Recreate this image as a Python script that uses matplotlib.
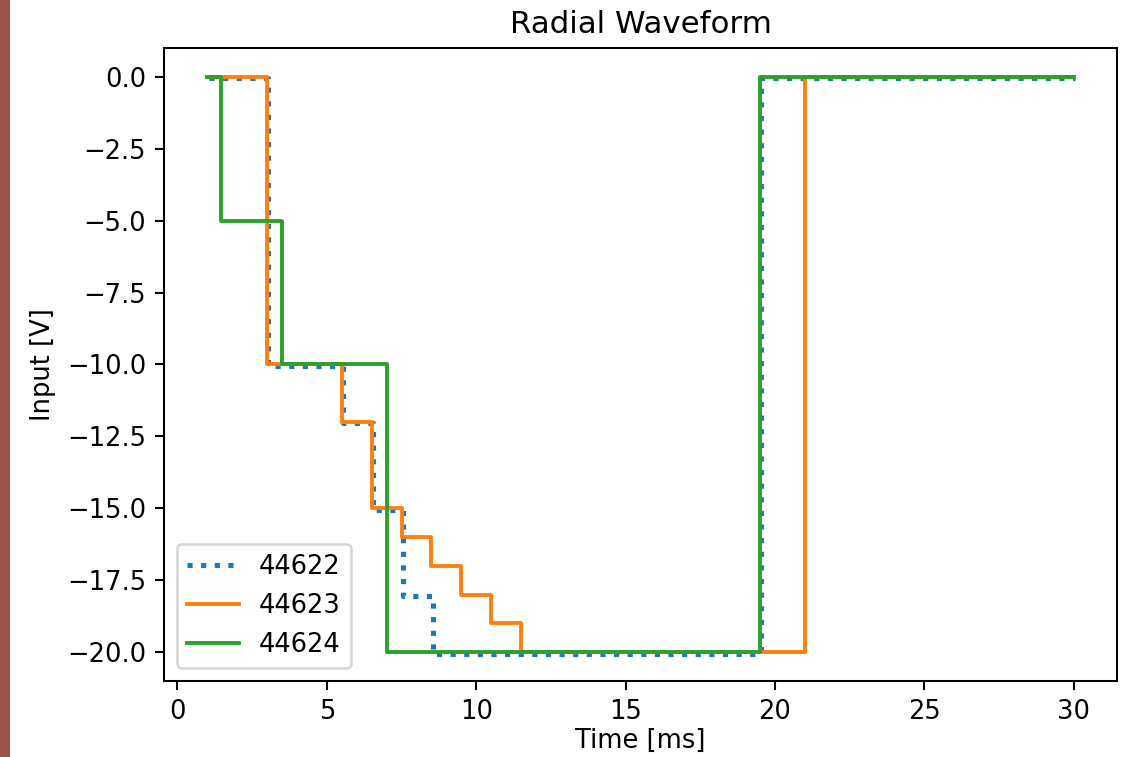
import matplotlib
matplotlib.use("Agg")
import matplotlib.pyplot as plt
from matplotlib.patches import Rectangle
from matplotlib.transforms import offset_copy

# step change times [ms] and levels [V] for each shot
t_44622 = [1.0, 3.0, 5.5, 6.5, 7.5, 8.5, 19.5, 30.0]
v_44622 = [0, -10, -12, -15, -18, -20, 0, 0]

t_44623 = [1.0, 3.0, 5.5, 6.5, 7.5, 8.5, 9.5, 10.5, 11.5, 21.0, 30.0]
v_44623 = [0, -10, -12, -15, -16, -17, -18, -19, -20, 0, 0]

t_44624 = [1.0, 1.45, 3.5, 7.0, 19.5, 30.0]
v_44624 = [0, -5, -10, -20, 0, 0]

shots = ['44622', '44623', '44624']

fig = plt.figure(figsize=(1130 / 185, 757 / 185), dpi=185)
ax = fig.add_axes([164 / 1130, 1 - 681 / 757, (1117 - 164) / 1130, (681 - 48) / 757])

# dotted trace sits a hair off the others in the original render
shifted = offset_copy(ax.transData, fig=fig, x=0.5, y=-0.5, units='points')
ax.plot(t_44622, v_44622, drawstyle='steps-post', linestyle=':', linewidth=2,
        label=shots[0], transform=shifted)
ax.plot(t_44623, v_44623, drawstyle='steps-post', label=shots[1])
ax.plot(t_44624, v_44624, drawstyle='steps-post', label=shots[2])

ax.set_title('Radial Waveform')
ax.set_xlabel('Time [ms]', labelpad=1)
ax.set_ylabel('Input [V]')
ax.legend(loc='lower left')

# strip of the window border visible on the left of the screenshot
fig.patches.append(Rectangle((0, 0), 10 / 1130, 1, transform=fig.transFigure,
                             facecolor='#9c5249', edgecolor='none'))

fig.savefig('out.png', dpi=185)
